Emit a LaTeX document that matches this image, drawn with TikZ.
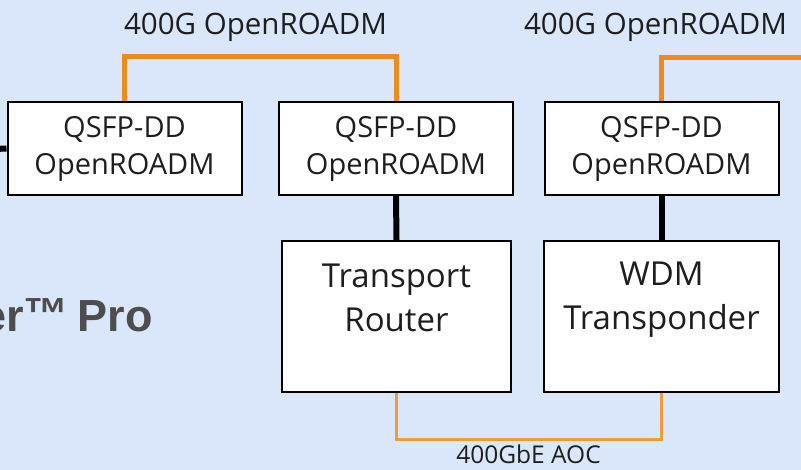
\documentclass[tikz,border=0pt]{standalone}
\usepackage{fontspec}
\setmainfont{Open Sans}
\newfontfamily\boldsans{Liberation Sans}
\definecolor{bg}{HTML}{DAE6FA}
\definecolor{orng}{HTML}{F08A1C}
\definecolor{orngb}{HTML}{F29A35}
\definecolor{txt}{HTML}{1E1E1E}
\definecolor{graytxt}{HTML}{4D4D4D}
\begin{document}
\begin{tikzpicture}[x=1pt,y=-1pt,
  smallbox/.style={draw=black, line width=2pt, fill=white, inner sep=0pt,
    minimum width=234pt, minimum height=93pt, align=center, text=txt,
    font=\fontsize{29}{37}\selectfont},
  bigbox/.style={draw=black, line width=2pt, fill=white, inner sep=0pt,
    minimum height=151pt},
  bigtext/.style={align=center, text=txt, inner sep=0pt, font=\fontsize{33}{44}\selectfont},
  toplabel/.style={anchor=base, text=txt, inner sep=0pt, font=\fontsize{29.5}{35}\selectfont},
  orangeline/.style={draw=orng, line width=5pt},
  aocline/.style={draw=orngb, line width=3pt},
  blackline/.style={draw=black, line width=6pt}]
\fill[bg] (0,0) rectangle (801,470);
\useasboundingbox (0,0) rectangle (801,470);

\node[smallbox] (q1) at (124.5,148.5) {QSFP-DD\\OpenROADM};
\node[smallbox] (q2) at (396,148.5) {QSFP-DD\\OpenROADM};
\node[smallbox] (q3) at (661.5,148.5) {QSFP-DD\\OpenROADM};
\node[bigbox, minimum width=229pt] (tr) at (396.5,316.5) {};
\node[bigbox, minimum width=235pt] (wdm) at (661.5,316.5) {};
\node[bigtext] (trl) at (396.5,297.5) {Transport\\Router};
\node[bigtext] (wdml) at (661.5,299.5) {WDM\\Transponder};

\node[toplabel] (lab1) at (255.5,35) {400G OpenROADM};
\node[toplabel] (lab2) at (655.5,35) {400G OpenROADM};
\node[anchor=base, text=txt, inner sep=0pt, font=\fontsize{24.5}{28}\selectfont] (aoc) at (528.5,463) {400GbE AOC};
\node[anchor=base east, text=graytxt, inner sep=0pt, font=\boldsans\bfseries\fontsize{45}{54}\selectfont] (pro) at (153,332)
  {er\raisebox{2pt}{™}\hspace{9pt}Pro};

\coordinate (leftend) at (-5,149);
\coordinate (rightend) at (806,58);
\draw[orangeline] (q1.north) -- ++(0,-44) -| (q2.north);
\draw[orangeline] (q3.north) |- (rightend);
\draw[blackline] (q2.south) -- (tr.north);
\draw[blackline] (q3.south) -- (wdm.north);
\draw[blackline] (leftend) -- (q1.west);
\draw[aocline] (tr.south) -- ++(0,46) -| (wdm.south);
\end{tikzpicture}
\end{document}
